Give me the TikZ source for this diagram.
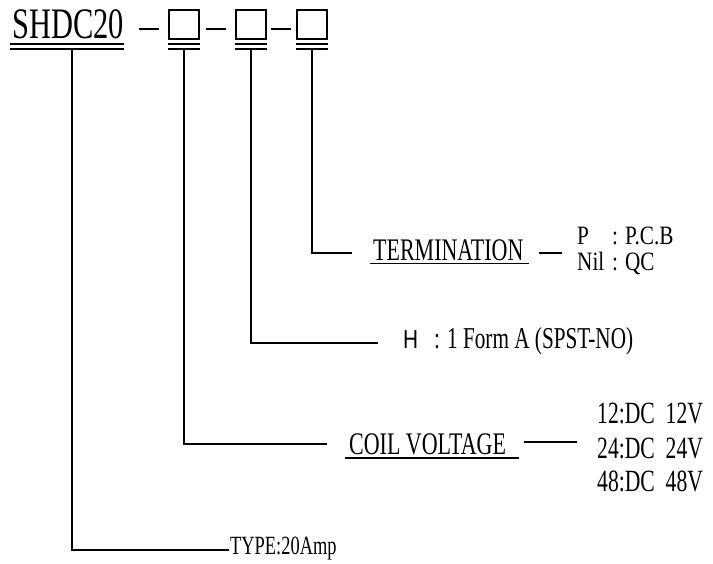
\documentclass[tikz,border=0pt]{standalone}
\usepackage{fontspec}
\setmainfont{Liberation Serif}[FakeStretch=0.7]
\newfontfamily\wideser{Liberation Serif}[FakeStretch=0.8]
\newfontfamily\hsans{Liberation Sans}[FakeStretch=0.8]
\tikzset{
  ln/.style={line width=1.3pt, line cap=butt},
  txt/.style={inner sep=0pt, anchor=base west, text=black},
  slot/.style={draw, line width=1.3pt, minimum width=30pt, minimum height=29pt, inner sep=0pt},
}
\begin{document}
\begin{tikzpicture}[x=1pt,y=-1pt]
\useasboundingbox (0,0) rectangle (713,563);
% header
\node[txt] (shdc) at (12,38) {\fontsize{43.5}{43.5}\selectfont SHDC20};
\node[slot] (b1) at (184,24.5) {};
\node[slot] (b2) at (251,24.5) {};
\node[slot] (b3) at (312,24.5) {};
\draw[ln] (139,29) -- (159,29);
\draw[ln] (206,29) -- (226,29);
\draw[ln] (271,29) -- (291,29);
% double lines
\foreach \a/\b in {10/124,168/200,235/267,296/328}{
  \draw[ln] (\a,44) -- (\b,44);
  \draw[ln] (\a,49) -- (\b,49);
}
\coordinate (s0) at (72,49);
\coordinate (s1) at (184,49);
\coordinate (s2) at (251,49);
\coordinate (s3) at (312,49);
% texts
\node[txt] (term) at (373,260) {\fontsize{31.4}{31.4}\selectfont TERMINATION};
\draw[ln] (370,263.5) -- (529,263.5);
\node[txt] (p) at (577,244) {\fontsize{26.5}{26.5}\wideser P};
\node[txt] (pcb) at (612,244) {\fontsize{26.5}{26.5}\wideser : P.C.B};
\node[txt] (nil) at (577,270) {\fontsize{26.5}{26.5}\wideser Nil};
\node[txt] (qc) at (612,270) {\fontsize{26.5}{26.5}\wideser : QC};
\coordinate (e3) at (352,253);
\coordinate (d3a) at (539,253);
\coordinate (d3b) at (562,253);
\draw[ln] (d3a) -- (d3b);

\node[txt] (h) at (403,348) {\fontsize{26}{26}\hsans H};
\node[txt] (form) at (434,348) {\fontsize{30.3}{30.3}\selectfont : 1 Form A (SPST-NO)};
\coordinate (e2) at (378,343);

\node[txt] (coil) at (349,454) {\fontsize{31.4}{31.4}\selectfont COIL VOLTAGE};
\draw[ln] (345,458) -- (519,458);
\coordinate (d1a) at (524,442);
\coordinate (d1b) at (577,442);
\draw[ln] (d1a) -- (d1b);
\node[txt] (v12) at (597,423) {\fontsize{30.9}{30.9}\selectfont 12:DC\ \ 12V};
\node[txt] (v24) at (597,458) {\fontsize{30.9}{30.9}\selectfont 24:DC\ \ 24V};
\node[txt] (v48) at (597,491) {\fontsize{30.9}{30.9}\selectfont 48:DC\ \ 48V};
\coordinate (e1) at (327,444);

\node[txt] (type) at (230,554) {\fontsize{26.3}{26.3}\selectfont TYPE:20Amp};
\coordinate (e0) at (229,550);

% connectors
\draw[ln] (s0) |- (e0);
\draw[ln] (s1) |- (e1);
\draw[ln] (s2) |- (e2);
\draw[ln] (s3) |- (e3);
\end{tikzpicture}
\end{document}
